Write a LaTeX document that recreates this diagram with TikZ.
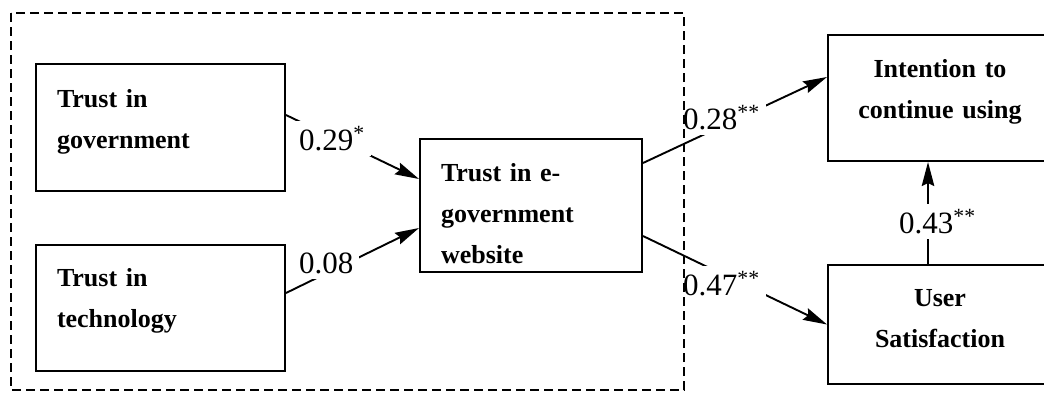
\documentclass[tikz,border=0pt]{standalone}
\usepackage{fontspec}
\setmainfont{Liberation Serif}
\usetikzlibrary{arrows.meta, positioning}

\begin{document}
\begin{tikzpicture}[
    x=1pt, y=-1pt,
    box/.style={rectangle, draw=black, line width=2pt, inner xsep=21pt,
                inner ysep=0pt, align=left, anchor=north west,
                font=\bfseries\fontsize{26pt}{41pt}\selectfont},
    cbox/.style={box, inner xsep=10pt, align=center},
    coef/.style={fill=white, inner sep=6pt, anchor=base west,
                font=\fontsize{31pt}{36pt}\selectfont},
    groupbox/.style={draw=black, line width=1.2pt, dash pattern=on 9pt off 5pt},
    arrow/.style={-{Stealth[length=24pt, width=12.5pt, inset=3pt]}, line width=1.9pt},
]
\clip (0,0) rectangle (1044,392);

% Trust antecedents
\node[box, text width=207pt, text height=43pt, text depth=84pt] (gov) at (35,63)
    {Trust in\\government};
\node[box, text width=207pt, text height=41pt, text depth=85pt, below=52pt of gov] (tech)
    {Trust in\\technology};

% Trust in website
\node[box, text width=180pt, text height=42pt, text depth=91pt] (egov) at (419,138)
    {Trust in e-\\government\\website};

% Outcomes
\node[cbox, text width=204pt, text height=42pt, text depth=84pt] (intent) at (827,34)
    {Intention to\\continue using};
\node[cbox, text width=204pt, text height=41pt, text depth=78pt, below=102pt of intent] (sat)
    {User\\Satisfaction};

% Paths
\draw[arrow] ([yshift=12.5pt]gov.east) -- ([yshift=26.5pt]egov.west);
\draw[arrow] ([yshift=15pt]tech.east) -- ([yshift=-22.5pt]egov.west);
\draw[arrow] ([yshift=42.5pt]egov.east) -- ([yshift=21pt]intent.west);
\draw[arrow] ([yshift=-30.5pt]egov.east) -- (sat.west);
\draw[arrow] ([xshift=-12pt]sat.north) -- ([xshift=-12pt]intent.south);

% Coefficients
\node[coef] (c29) at (293,150) {0.29\textsuperscript{*}};
\node[coef] (c08) at (293,273) {0.08};
\node[coef] (c28) at (677,129) {0.28\textsuperscript{**}};
\node[coef] (c47) at (677,295) {0.47\textsuperscript{**}};
\node[coef] (c43) at (893,233) {0.43\textsuperscript{**}};

% Trust group
\draw[groupbox] (11,13) rectangle (684,390);

\end{tikzpicture}
\end{document}
